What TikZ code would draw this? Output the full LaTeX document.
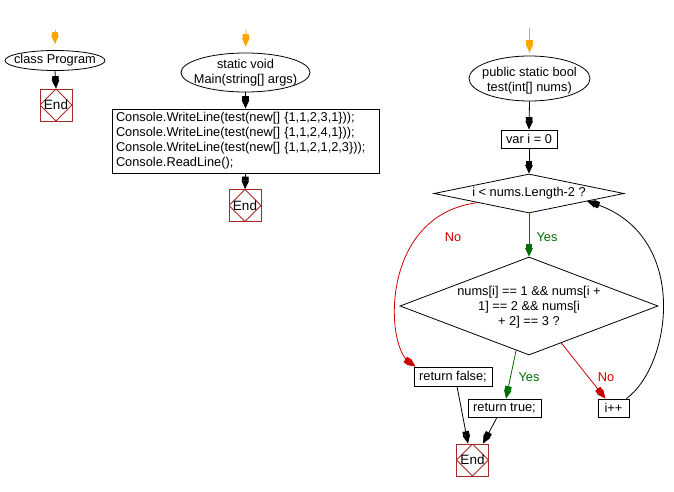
\documentclass[tikz,border=0pt]{standalone}
\usepackage{fontspec}
\setmainfont{Liberation Sans}
\usetikzlibrary{shapes.geometric,arrows.meta,calc}
\definecolor{startor}{RGB}{255,165,0}
\definecolor{nored}{RGB}{204,0,0}
\definecolor{yesgreen}{RGB}{0,110,0}
\definecolor{endred}{RGB}{170,40,40}
\begin{document}
\begin{tikzpicture}[x=1pt,y=-1pt, line width=0.8pt,
  font=\fontsize{12.8}{15}\selectfont,
  bigtip/.style={-{Rectangle[length=4pt,width=6.5pt]Triangle[length=8.5pt,width=7.5pt]}},
  flow/.style={draw=black, bigtip},
  startarr/.style={draw=startor, bigtip},
  noarr/.style={draw=nored, bigtip},
  yesarr/.style={draw=yesgreen, bigtip},
  term/.style={ellipse, draw, inner sep=0pt},
  proc/.style={rectangle, draw, inner sep=0pt},
  dec/.style={diamond, draw, inner sep=0pt},
  txt/.style={inner sep=0pt, align=center},
  endbox/.style={rectangle, draw=endred, minimum width=32pt, minimum height=32pt, inner sep=0pt,
    font=\fontsize{13.5}{15}\selectfont,
    path picture={\draw[endred] (path picture bounding box.north) -- (path picture bounding box.east) -- (path picture bounding box.south) -- (path picture bounding box.west) -- cycle;}},
  nolab/.style={text=nored, inner sep=0pt},
  yeslab/.style={text=yesgreen, inner sep=0pt}]
\fill[white] (0,0) rectangle (674,492);
\useasboundingbox (0,0) rectangle (674,492);

% left column
\coordinate (s1) at (55,30);
\node[term, minimum width=100pt, minimum height=20pt] (cp) at (55,60.5) {};
\node[txt] at (cp) {class Program};
\node[endbox] (e1) at (56,105) {End};
\draw[startarr, shorten >=6pt] (s1) -- (cp.north);
\draw[flow] (cp.south) -- (e1.north);

% middle column
\coordinate (s2) at (246,30);
\node[term, minimum width=129pt, minimum height=39pt] (mn) at (245.5,72.5) {};
\node[txt] at (mn) {static void\\Main(string[] args)};
\node[proc, minimum width=267pt, minimum height=64pt, align=left, text width=259pt] (cw) at (245.5,141)
  {Console.WriteLine(test(new[] \{1,1,2,3,1\}));\\
   Console.WriteLine(test(new[] \{1,1,2,4,1\}));\\
   Console.WriteLine(test(new[] \{1,1,2,1,2,3\}));\\
   Console.ReadLine();};
\node[endbox] (e2) at (245,205.5) {End};
\draw[startarr, shorten >=6pt] (s2) -- (mn.north);
\draw[flow] (mn.south) -- (cw.north);
\draw[flow] (cw.south) -- (e2.north);

% right column
\coordinate (s3) at (529.5,28);
\node[term, minimum width=121pt, minimum height=45pt] (ts) at (529.5,78.5) {};
\node[txt] at ($(ts)+(0,2)$) {public static bool\\test(int[] nums)};
\node[proc, minimum width=56pt, minimum height=18pt] (vi) at (529,139) {var i = 0};
\node[dec, minimum width=190pt, minimum height=39pt] (d1) at (529,193.5) {};
\node[txt] at (d1) {i < nums.Length-2 ?};
\node[dec, minimum width=258pt, minimum height=98pt] (d2) at (529,306) {};
\node[txt] at ($(d2)+(0,1)$) {nums[i] == 1 \&\& nums[i +\\1] == 2 \&\& nums[i\\+ 2] == 3 ?};
\node[proc, minimum width=78pt, minimum height=19pt] (rf) at (453,376.5) {return false;};
\node[proc, minimum width=73pt, minimum height=18pt] (rt) at (504.5,408) {return true;};
\node[proc, minimum width=31pt, minimum height=18pt] (ip) at (613.5,408) {i++};
\node[endbox] (e3) at (472.5,460) {End};

\draw[startarr, shorten >=3pt] (s3) -- (ts.north);
\draw[flow] (ts.south) -- (vi.north);
\draw[flow] (vi.south) -- (d1.north);
\draw[yesarr] (d1.south) -- (d2.north);
\node[yeslab] (y1) at (547,237) {Yes};
\draw[noarr] ($(d1.west)!0.46!(d1.south)$) .. controls (380,215) and (385,345) .. ($(rf.north west)+(2,0)$);
\node[nolab] (n1) at (453,237) {No};
\draw[yesarr] ($(d2.west)!0.9!(d2.south)$) -- ($(rt.north)+(1.5,0)$);
\node[yeslab] (y2) at (529,377) {Yes};
\draw[noarr] ($(d2.east)!0.75!(d2.south)$) -- ($(ip.north)+(-8,0)$);
\node[nolab] (n2) at (606,377) {No};
\draw[flow] ($(ip.north east)+(-3,0)$) .. controls (672,365) and (690,235) .. ($(d1.east)!0.39!(d1.south)$);
\draw[flow] ($(rf.south)+(4,0)$) -- ($(e3.north)+(-4.5,0)$);
\draw[flow] ($(rt.south)+(-7.5,0)$) -- ($(e3.north)+(10.5,0)$);
\end{tikzpicture}
\end{document}
